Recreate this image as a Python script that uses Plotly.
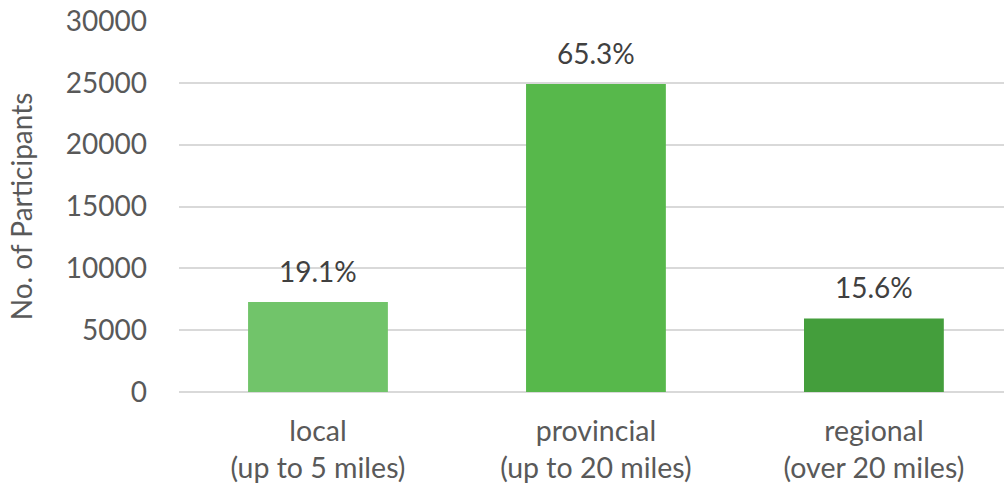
import plotly.graph_objects as go

categories = ["local<br>(up to 5 miles)", "provincial<br>(up to 20 miles)", "regional<br>(over 20 miles)"]
participants = [7280, 24900, 5950]
pct_labels = ["19.1%", "65.3%", "15.6%"]
bar_colors = ["#71C46A", "#57B84B", "#449E3C"]
y_ticks = [0, 5000, 10000, 15000, 20000, 25000, 30000]
y_tick_text = ["0", "5000", "10000", "15000", "20000", "25000", "30000"]

FONT = "Lato, 'Open Sans', sans-serif"
FS = 28
fig = go.Figure()
fig.add_trace(go.Bar(
    x=categories, y=participants, marker=dict(color=bar_colors, line=dict(width=0)),
    width=0.503, hoverinfo="skip",
))
for c, v, t in zip(categories, participants, pct_labels):
    fig.add_annotation(x=c, y=v, text=t, showarrow=False, yanchor="bottom", yshift=12,
                       font=dict(family=FONT, size=FS, color="#404040"))

fig.update_layout(
    width=1004, height=486,
    margin=dict(l=179, r=0, t=21, b=94, pad=0),
    paper_bgcolor="white", plot_bgcolor="white",
    showlegend=False,
    font=dict(family=FONT, size=FS, color="#595959"),
    xaxis=dict(range=[-0.5, 2.468], showgrid=False, showline=False, ticks="", automargin=False,
               tickfont=dict(size=28.5, color="#595959"), ticklabelstandoff=19),
    yaxis=dict(range=[0, 30000], tickvals=y_ticks, ticktext=y_tick_text, showgrid=True,
               gridcolor="#D9D9D9", automargin=False,
               gridwidth=1.5, zeroline=True, zerolinecolor="#D9D9D9", zerolinewidth=1.5,
               showline=False, ticks="", ticklabelstandoff=31,
               tickfont=dict(size=FS, color="#595959"),
               title=dict(text="No. of Participants", font=dict(size=FS, color="#595959"), standoff=24)),
)
fig.write_html("out.html", config={"displayModeBar": False},
               post_script="document.body.style.margin='0';document.body.style.overflow='hidden';")
